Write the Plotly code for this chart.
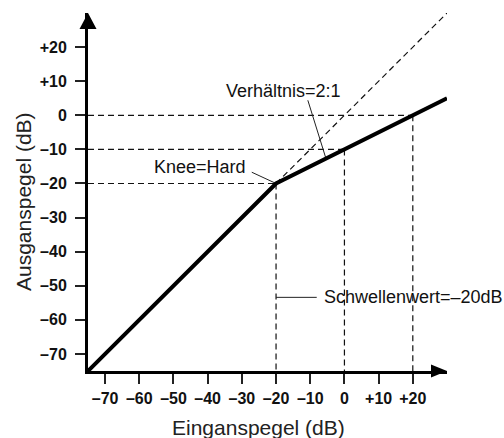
import plotly.graph_objects as go

# Compressor transfer curve (input level -> output level, dB)
curve_in = [-75, -20, 30]
curve_out = [-75, -20, 5]

# Unity-gain reference (no compression)
unity_in = [-20, 30]
unity_out = [-20, 30]

# Guide points on the compressed curve
guide_in = [-20, 0, 20]
guide_out = [-20, -10, 0]

# Axis ticks
tick_vals = [-70, -60, -50, -40, -30, -20, -10, 0, 10, 20]
tick_text = ["–70", "–60", "–50", "–40", "–30", "–20", "–10", "0", "+10", "+20"]

AX_MIN, AX_MAX = -75, 30

FONT = "Liberation Sans, Arial, Helvetica, sans-serif"
W, H = 504, 438
ML, MR, MT, MB = 88, 57, 13, 67
PW, PH = W - ML - MR, H - MT - MB


def paper_x(px):
    return (px - ML) / PW


def paper_y(py):
    return (H - MB - py) / PH


fig = go.Figure()

# dashed guides from each guide point to both axes
gx, gy = [], []
for xi, yi in zip(guide_in, guide_out):
    gx += [AX_MIN, xi, None]
    gy += [yi, yi, None]
for xi, yi in zip(guide_in, guide_out):
    gx += [xi, xi, None]
    gy += [yi, AX_MIN, None]
fig.add_trace(go.Scatter(x=gx, y=gy, mode="lines",
                         line=dict(color="#111", width=1.2, dash="6px,4px"),
                         hoverinfo="skip", showlegend=False))

# unity line
fig.add_trace(go.Scatter(x=unity_in, y=unity_out, mode="lines",
                         line=dict(color="#111", width=1.2, dash="6px,4px"),
                         hoverinfo="skip", showlegend=False))

# leader lines for the labels
knee_x, knee_y = curve_in[1], curve_out[1]
leaders = [
    ([-27.1, knee_x], [-16.7, knee_y]),
    ([-10.7, -5.4], [4.4, -12.7]),
    ([knee_x, -8.1], [-53.4, -53.4]),
]
for lx, ly in leaders:
    fig.add_trace(go.Scatter(x=lx, y=ly, mode="lines",
                             line=dict(color="#222", width=1),
                             hoverinfo="skip", showlegend=False))

# compressor curve
fig.add_trace(go.Scatter(x=curve_in, y=curve_out, mode="lines",
                         line=dict(color="black", width=4),
                         hoverinfo="skip", showlegend=False))

label_font = dict(family=FONT, size=18, color="#111")
fig.add_annotation(x=-28.3, y=-15.3, text="Knee=Hard", showarrow=False,
                   xanchor="right", yanchor="middle", font=label_font)
fig.add_annotation(x=-0.3, y=7.2, text="Verhältnis=2:1", showarrow=False,
                   xanchor="right", yanchor="middle", font=label_font)
fig.add_annotation(x=-6.6, y=-53.4, text="Schwellenwert=–20dB", showarrow=False,
                   xanchor="left", yanchor="middle", font=label_font)

title_font = dict(family=FONT, size=21, color="#222")
fig.add_annotation(xref="paper", yref="paper", x=paper_x(258), y=paper_y(427),
                   text="Einganspegel (dB)", showarrow=False,
                   xanchor="center", yanchor="middle", font=title_font)
fig.add_annotation(xref="paper", yref="paper", x=paper_x(23), y=paper_y(202),
                   text="Ausganspegel (dB)", showarrow=False, textangle=-90,
                   xanchor="center", yanchor="middle", font=title_font)

# arrowheads at the ends of both axes
fig.add_shape(type="path", xref="paper", yref="paper",
              xsizemode="pixel", ysizemode="pixel", xanchor=1, yanchor=0,
              path="M 0,0 L -16,6.5 L -16,-6.5 Z",
              fillcolor="black", line=dict(color="black", width=0))
fig.add_shape(type="path", xref="paper", yref="paper",
              xsizemode="pixel", ysizemode="pixel", xanchor=0, yanchor=1,
              path="M 0,0 L -8.5,-16 L 8.5,-16 Z",
              fillcolor="black", line=dict(color="black", width=0))

tick_font = dict(family=FONT, size=16, color="#111", weight="bold")
axis_common = dict(
    range=[AX_MIN, AX_MAX], showgrid=False, zeroline=False,
    showline=True, linecolor="black", linewidth=3,
    ticks="outside", ticklen=10, tickwidth=1.5, tickcolor="#222",
    tickvals=tick_vals, ticktext=tick_text, tickfont=tick_font,
    fixedrange=True,
)
fig.update_xaxes(**axis_common, ticklabelstandoff=1)
fig.update_yaxes(**axis_common, ticklabelstandoff=5)

fig.update_layout(
    width=W, height=H,
    margin=dict(l=ML, r=MR, t=MT, b=MB),
    paper_bgcolor="white", plot_bgcolor="white",
    showlegend=False,
)

fig.write_html("out.html")
